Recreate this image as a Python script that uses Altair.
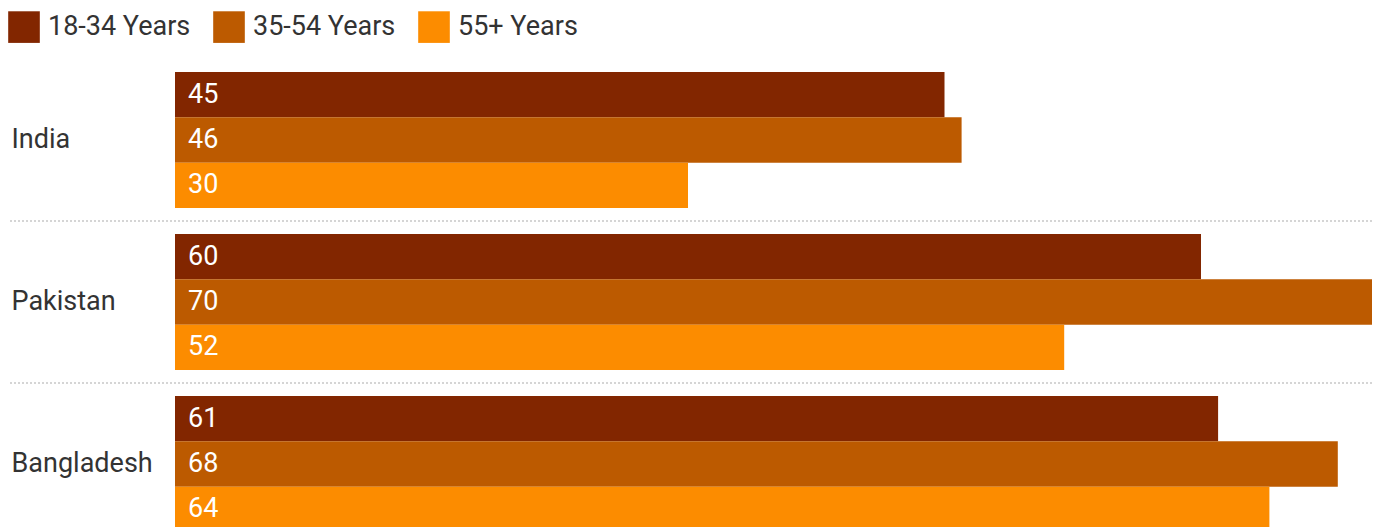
import altair as alt
import pandas as pd

countries = ["India", "Pakistan", "Bangladesh"]
groups = ["18-34 Years", "35-54 Years", "55+ Years"]
colors = ["#822600", "#BC5A00", "#FC8C00"]
values = {
    "India": [45, 46, 30],
    "Pakistan": [60, 70, 52],
    "Bangladesh": [61, 68, 64],
}
separators = ["India", "Pakistan"]

rows = []
for c in countries:
    for g, v in zip(groups, values[c]):
        rows.append({"country": c, "group": g, "value": v})
df = pd.DataFrame(rows)
sep_df = pd.DataFrame({"country": separators})

FONT = "Roboto"
FS = 27

y_scale = alt.Scale(domain=countries, range=[0, 460], paddingInner=26 / 162, paddingOuter=0)
x_scale = alt.Scale(domain=[0, 70], nice=False, zero=True)

y_enc = alt.Y(
    "country:N",
    scale=y_scale,
    axis=alt.Axis(
        title=None, ticks=False, domain=False, grid=False,
        labelAlign="left", labelPadding=164, labelFontSize=FS,
        labelColor="#333333", labelFont=FONT, labelBaseline="middle",
    ),
)
yoff = alt.YOffset("group:N", sort=groups, scale=alt.Scale(paddingInner=0, paddingOuter=0))

bars = alt.Chart(df).mark_bar(opacity=1).encode(
    x=alt.X("value:Q", scale=x_scale, axis=None),
    y=y_enc,
    yOffset=yoff,
    color=alt.Color(
        "group:N",
        sort=groups,
        scale=alt.Scale(domain=groups, range=colors),
        legend=alt.Legend(
            title=None, orient="none", legendX=-167, legendY=-61,
            direction="horizontal", symbolType="square", symbolSize=1000,
            symbolStrokeWidth=0, labelFontSize=FS, labelColor="#333333",
            labelFont=FONT, labelOffset=8, columnPadding=22,
        ),
    ),
)

labels = alt.Chart(df).mark_text(
    align="left", baseline="middle", dx=13, color="white", fontSize=FS, font=FONT
).encode(
    x=alt.datum(0, scale=x_scale),
    y=y_enc,
    yOffset=yoff,
    text="value:Q",
)

seps = alt.Chart(sep_df).mark_rule(
    color="#c8c8c8", strokeDash=[2, 2], strokeWidth=1.5, yOffset=13
).encode(
    y=alt.Y("country:N", bandPosition=1),
    x=alt.value(-165),
    x2=alt.value(1197),
)

chart = alt.layer(bars, labels, seps).properties(
    width=1197,
    height=455,
    autosize=alt.AutoSizeParams(type="none"),
    padding={"left": 167, "top": 64, "right": 5, "bottom": 0},
).configure(font=FONT).configure_view(stroke=None, strokeWidth=0)

chart.save("out.html", embed_options={"renderer": "svg", "actions": False})
